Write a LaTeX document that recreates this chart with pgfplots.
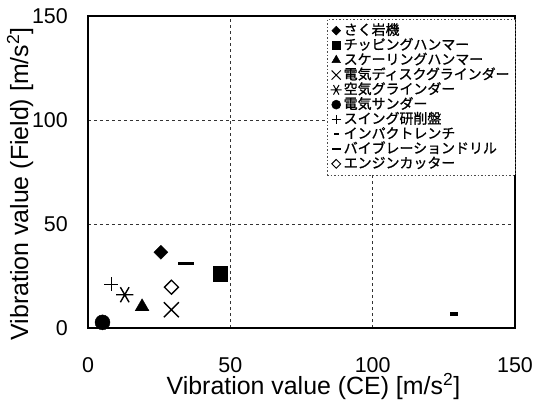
\documentclass[border=0pt]{standalone}
\usepackage{fontspec}
\setmainfont{Liberation Sans}
\newfontfamily\cjk[FakeBold=1]{Noto Sans CJK JP}
\usepackage{pgfplots}
\pgfplotsset{compat=1.18}
\pgfplotsset{myleg/.style={only marks, solid, legend image code/.code={\draw[mark repeat=2,mark phase=2,##1] plot coordinates {(0bp,0bp)(4.5bp,0bp)(9bp,0bp)};}}}
\begin{document}
\begin{tikzpicture}
\begin{axis}[
  scale only axis, width=427bp, height=312bp,
  xmin=0, xmax=150, ymin=0, ymax=150,
  xtick={0,50,100,150}, ytick={0,50,100,150},
  major tick length=0pt,
  grid=major,
  major grid style={black!80, line width=0.5bp, dash pattern=on 3bp off 3bp},
  axis line style={line width=1.2bp},
  clip=false,
  /pgf/number format/assume math mode=true,
  tick label style={font=\fontsize{21.5}{24}\selectfont, inner sep=0pt},
  xticklabel style={anchor=base, yshift=-44.5bp},
  yticklabel style={anchor=east, xshift=-20bp},
  label style={font=\fontsize{25}{28}\selectfont, inner sep=0pt},
  xlabel={Vibration value (CE) [m/s\textsuperscript{2}]},
  ylabel={Vibration value (Field) [m/s\textsuperscript{2}]},
  x label style={at={(axis description cs:0.528,-0.2135)}, anchor=base},
  y label style={at={(axis description cs:-0.1405,0.4615)}, anchor=base},
  legend cell align=left,
  legend style={at={(0.5597,1)}, anchor=north west, yshift=-3bp,
    draw=black!70, line width=0.5bp, dash pattern=on 1.5bp off 2bp,
    inner xsep=3.5bp, inner ysep=4bp,
    font=\fontsize{14}{14}\selectfont\cjk,
    nodes={inner xsep=2bp, inner ysep=0.4bp, text height=11.2bp, text depth=2.8bp},
    row sep=0pt,
    /tikz/every even column/.append style={column sep=2.5bp}},
]
\coordinate (ll) at (rel axis cs:0,0);
\coordinate (ur) at (rel axis cs:1,1);
% data
\addplot[only marks, mark=square*, mark size=4.95bp, mark options={rotate=45, fill=black}, forget plot] coordinates {(25.6,36.4)};
\addplot[only marks, mark=square*, mark size=7.3bp, mark options={fill=black}, forget plot] coordinates {(46.5,26)};
\addplot[only marks, mark=triangle*, mark size=8bp, mark options={fill=black}, forget plot] coordinates {(19,10.2)};
\addplot[only marks, mark=x, mark size=10.6bp, mark options={line width=1.4bp}, forget plot] coordinates {(29.3,8.8)};
\addplot[only marks, mark=asterisk, mark size=8.7bp, mark options={rotate=90, line width=1.4bp}, forget plot] coordinates {(12.9,16)};
\addplot[only marks, mark=*, mark size=7.5bp, mark options={fill=black}, forget plot] coordinates {(5.1,2.7)};
\addplot[only marks, mark=+, mark size=7bp, mark options={line width=1.4bp}, forget plot] coordinates {(8.2,21)};
\addplot[only marks, mark=-, mark size=4bp, mark options={line width=3.5bp}, forget plot] coordinates {(128.5,6.7)};
\addplot[only marks, mark=-, mark size=8bp, mark options={line width=3bp}, forget plot] coordinates {(34.4,30.8)};
\addplot[only marks, mark=square, mark size=4.95bp, mark options={rotate=45, line width=1.3bp}, forget plot] coordinates {(29.3,19.6)};
% legend
\addlegendimage{myleg, mark=square*, mark size=3.1bp, mark options={rotate=45, fill=black, solid}}
\addlegendentry{さく岩機}
\addlegendimage{myleg, mark=square*, mark size=4.3bp, mark options={fill=black, solid}}
\addlegendentry{チッピングハンマー}
\addlegendimage{myleg, mark=triangle*, mark size=5bp, mark options={fill=black, solid}}
\addlegendentry{スケーリングハンマー}
\addlegendimage{myleg, mark=x, mark size=6.5bp, mark options={line width=1bp, solid}}
\addlegendentry{電気ディスクグラインダー}
\addlegendimage{myleg, mark=asterisk, mark size=5.5bp, mark options={rotate=90, line width=1bp, solid}}
\addlegendentry{空気グラインダー}
\addlegendimage{myleg, mark=*, mark size=4.5bp, mark options={fill=black, solid}}
\addlegendentry{電気サンダー}
\addlegendimage{myleg, mark=+, mark size=4.5bp, mark options={line width=1bp, solid}}
\addlegendentry{スイング研削盤}
\addlegendimage{myleg, mark=-, mark size=2.5bp, mark options={line width=2.2bp, solid}}
\addlegendentry{インパクトレンチ}
\addlegendimage{myleg, mark=-, mark size=4.5bp, mark options={line width=2.2bp, solid}}
\addlegendentry{バイブレーションドリル}
\addlegendimage{myleg, mark=square, mark size=3.1bp, mark options={rotate=45, line width=1bp, solid}}
\addlegendentry{エンジンカッター}
\end{axis}
\path ([shift={(-88bp,-73bp)}]ll) rectangle ([shift={(23bp,16bp)}]ur);
\end{tikzpicture}
\end{document}
